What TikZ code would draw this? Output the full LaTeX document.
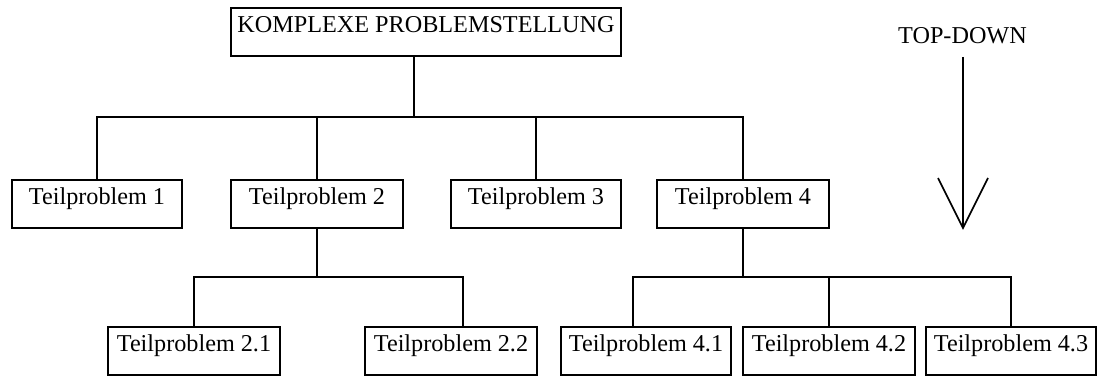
\documentclass[tikz,border=0pt]{standalone}
\usepackage{fontspec}
\setmainfont{Liberation Serif}
\begin{document}
\begin{tikzpicture}[x=1pt,y=-1pt,
  every node/.style={font=\fontsize{24.2}{29}\selectfont},
  box/.style={draw,line width=1.8pt,inner xsep=0pt,inner ysep=0pt,
    text height=25pt,text depth=23pt,anchor=north},
  link/.style={line width=1.8pt,line join=miter}]
\useasboundingbox (0,0) rectangle (1098,377);

% root
\node[box,minimum width=390pt] (top) at (426,7) {KOMPLEXE PROBLEMSTELLUNG};

% first level
\node[box,minimum width=170pt] (t1) at (97,179)  {Teilproblem 1};
\node[box,minimum width=172pt] (t2) at (317,179) {Teilproblem 2};
\node[box,minimum width=170pt] (t3) at (536,179) {Teilproblem 3};
\node[box,minimum width=172pt] (t4) at (743,179) {Teilproblem 4};

% second level
\node[box,minimum width=172pt] (t21) at (194,326)  {Teilproblem 2.1};
\node[box,minimum width=172pt] (t22) at (451,326)  {Teilproblem 2.2};
\node[box,minimum width=170pt] (t41) at (646,326)  {Teilproblem 4.1};
\node[box,minimum width=172pt] (t42) at (829,326)  {Teilproblem 4.2};
\node[box,minimum width=170pt] (t43) at (1011,326) {Teilproblem 4.3};

% junction points of the buses
\coordinate (j0) at (414,117);
\coordinate (j2) at (317,277);
\coordinate (k22) at (463,277);
\coordinate (j4) at (743,277);
\coordinate (k41) at (633,277);

% root to first level
\draw[link] (top.south -| j0) -- (j0);
\draw[link] (t1.north) -- (t1.north |- j0) -- (t4.north |- j0) -- (t4.north);
\draw[link] (t2.north) -- (t2.north |- j0);
\draw[link] (t3.north) -- (t3.north |- j0);

% Teilproblem 2 to its parts
\draw[link] (t2.south) -- (t2.south |- j2);
\draw[link] (t21.north) -- (t21.north |- j2) -- (k22) -- (k22 |- t22.north);

% Teilproblem 4 to its parts
\draw[link] (t4.south -| j4) -- (j4);
\draw[link] (k41 |- t41.north) -- (k41) -- (t43.north |- k41) -- (t43.north);
\draw[link] (t42.north) -- (t42.north |- k41);

% direction marker
\node[anchor=base,inner sep=0pt] (td) at (962.5,44) {TOP-DOWN};
\coordinate (astart) at (963,57);
\coordinate (atip) at (963,228);
\coordinate (wl) at (938,178);
\coordinate (wr) at (988,178);
\draw[line width=1.6pt] (astart) -- (atip);
\draw[line width=1.6pt,line join=miter] (wl) -- (atip) -- (wr);
\end{tikzpicture}
\end{document}
